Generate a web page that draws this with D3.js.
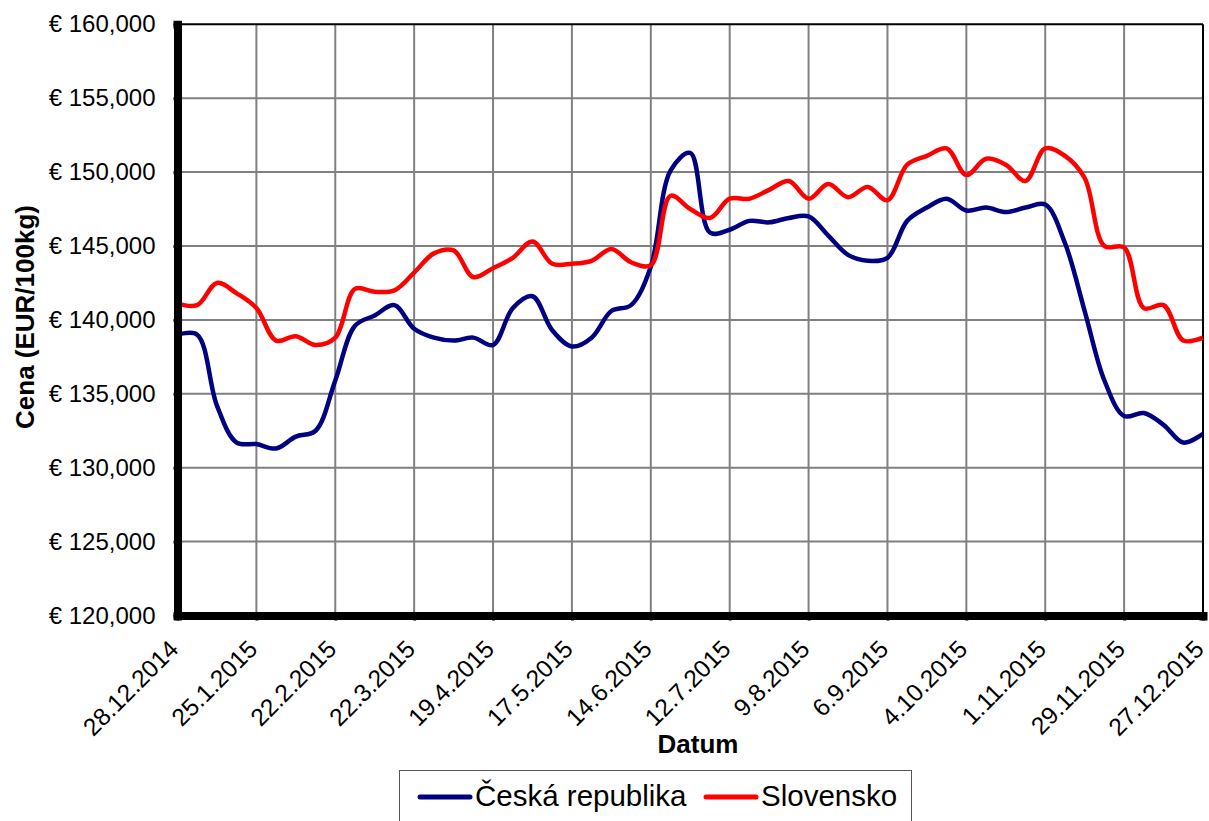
<!DOCTYPE html>
<html lang="cs">
<head>
<meta charset="UTF-8">
<script src="https://cdnjs.cloudflare.com/ajax/libs/d3/7.8.5/d3.min.js"></script>
<title>Cena</title>
<style>
    body { margin: 0; background: #fff; }
    svg { display: block; font-family: "Liberation Sans", Arial, sans-serif; }
</style>
</head>
<body>
<div id="plot"></div>
<script>
    // weekly prices, first week 28.12.2014
    var startDate = "28.12.2014";
    var tickLabels = ["28.12.2014", "25.1.2015", "22.2.2015", "22.3.2015", "19.4.2015", "17.5.2015",
        "14.6.2015", "12.7.2015", "9.8.2015", "6.9.2015", "4.10.2015", "1.11.2015", "29.11.2015", "27.12.2015"];
    var yTicks = [120000, 125000, 130000, 135000, 140000, 145000, 150000, 155000, 160000];

    var cz = [139.0, 139.0, 134.2, 131.7, 131.6, 131.3, 132.1, 132.5, 135.9, 139.6,
        140.3, 141.0, 139.4, 138.8, 138.6, 138.8, 138.3, 140.8, 141.6, 139.3,
        138.2, 138.8, 140.6, 141.0, 143.6, 150.1, 151.3, 145.9, 146.1, 146.7,
        146.6, 146.9, 147.0, 145.7, 144.4, 144.0, 144.2, 146.7, 147.6, 148.2,
        147.4, 147.6, 147.3, 147.6, 147.8, 145.2, 140.6, 135.9, 133.5, 133.7,
        132.9, 131.7, 132.3];
    var sk = [141.1, 141.0, 142.5, 141.8, 140.8, 138.6, 138.9, 138.3, 138.8, 142.1,
        141.9, 142.0, 143.2, 144.5, 144.7, 142.9, 143.5, 144.2, 145.3, 143.8,
        143.8, 144.0, 144.8, 143.9, 143.7, 148.4, 147.5, 146.9, 148.2, 148.2,
        148.8, 149.4, 148.2, 149.2, 148.3, 149.0, 148.1, 150.5, 151.1, 151.6,
        149.8, 150.9, 150.5, 149.4, 151.6, 151.1, 149.6, 145.0, 144.9, 140.8,
        141.0, 138.6, 138.8];

    var seriesNames = ["Česká republika", "Slovensko"];
    var colors = ["#000080", "#ff0000"];

    var W = 1209, H = 821;
    var pL = 177.5, pR = 1203, pT = 24.3, pB = 615.5;

    var parse = d3.timeParse("%d.%m.%Y");
    var t0 = parse(startDate);
    var dates = cz.map((v, i) => d3.timeDay.offset(t0, 7 * i));
    var tickDates = tickLabels.map(parse);

    var svg = d3.select("#plot").append("svg")
        .attr("width", W)
        .attr("height", H);

    var x = d3.scaleTime().domain([tickDates[0], tickDates[tickDates.length - 1]]).range([pL, pR]);
    var y = d3.scaleLinear().domain([120000, 160000]).range([pB, pT]);

    // grid
    svg.append("g")
        .selectAll("line")
        .data(tickDates.slice(1, -1))
        .enter().append("line")
        .attr("x1", d => x(d)).attr("x2", d => x(d))
        .attr("y1", pT).attr("y2", pB)
        .attr("stroke", "#808080").attr("stroke-width", 2);
    svg.append("g")
        .selectAll("line")
        .data(yTicks.slice(1, -1))
        .enter().append("line")
        .attr("x1", pL).attr("x2", pR)
        .attr("y1", d => y(d)).attr("y2", d => y(d))
        .attr("stroke", "#808080").attr("stroke-width", 2);

    // frame top / right
    svg.append("line").attr("x1", pL).attr("x2", pR).attr("y1", pT).attr("y2", pT)
        .attr("stroke", "#000").attr("stroke-width", 2);
    svg.append("line").attr("x1", pR).attr("x2", pR).attr("y1", pT).attr("y2", pB)
        .attr("stroke", "#000").attr("stroke-width", 2);

    // lines
    var line = d3.line()
        .x((d, i) => x(dates[i]))
        .y(d => y(d * 1000))
        .curve(d3.curveCatmullRom.alpha(0.5));

    [cz, sk].forEach(function (s, k) {
        svg.append("path")
            .datum(s)
            .attr("d", line)
            .attr("fill", "none")
            .attr("stroke", colors[k])
            .attr("stroke-width", 4.5)
            .attr("stroke-linejoin", "round");
    });

    // y axis
    var fmt = d3.format(",");
    var yAxis = svg.append("g")
        .attr("transform", "translate(" + pL + ",0)")
        .call(d3.axisLeft(y).tickValues(yTicks).tickSize(4).tickPadding(18)
            .tickFormat(d => "€ " + fmt(d)));
    yAxis.select(".domain").attr("stroke", "#000").attr("stroke-width", 8);
    yAxis.selectAll(".tick line").attr("stroke", "#000").attr("stroke-width", 3);
    yAxis.selectAll(".tick text")
        .attr("font-size", 24)
        .attr("fill", "#000")
        .attr("font-family", "Liberation Sans, Arial, sans-serif");

    // x axis
    var xAxis = svg.append("g")
        .attr("transform", "translate(0," + pB + ")")
        .call(d3.axisBottom(x).tickValues(tickDates).tickSize(5)
            .tickFormat((d, i) => tickLabels[i]));
    xAxis.select(".domain").attr("stroke", "#000").attr("stroke-width", 8);
    xAxis.selectAll(".tick line").attr("stroke", "#000").attr("stroke-width", 3);
    xAxis.selectAll(".tick text")
        .attr("font-size", 24.5)
        .attr("fill", "#000")
        .attr("font-family", "Liberation Sans, Arial, sans-serif")
        .attr("text-anchor", "end")
        .attr("dy", null)
        .attr("y", 0)
        .attr("transform", "translate(2,35) rotate(-45)");

    // axis titles
    svg.append("text")
        .attr("transform", "translate(34,317) rotate(-90)")
        .attr("text-anchor", "middle")
        .attr("font-size", 26)
        .attr("font-weight", "bold")
        .text("Cena (EUR/100kg)");
    svg.append("text")
        .attr("x", 698).attr("y", 753)
        .attr("text-anchor", "middle")
        .attr("font-size", 26)
        .attr("font-weight", "bold")
        .text("Datum");

    // legend
    var lg = svg.append("g");
    lg.append("rect")
        .attr("x", 399.5).attr("y", 770.5)
        .attr("width", 512).attr("height", 70)
        .attr("fill", "#fff").attr("stroke", "#555").attr("stroke-width", 1);
    var lx = [420, 706];
    seriesNames.forEach(function (n, k) {
        lg.append("line")
            .attr("x1", lx[k]).attr("x2", lx[k] + 50)
            .attr("y1", 797).attr("y2", 797)
            .attr("stroke", colors[k]).attr("stroke-width", 5)
            .attr("stroke-linecap", "round");
        lg.append("text")
            .attr("x", lx[k] + 55).attr("y", 806)
            .attr("font-size", 29.5)
            .text(n);
    });
</script>
</body>
</html>
